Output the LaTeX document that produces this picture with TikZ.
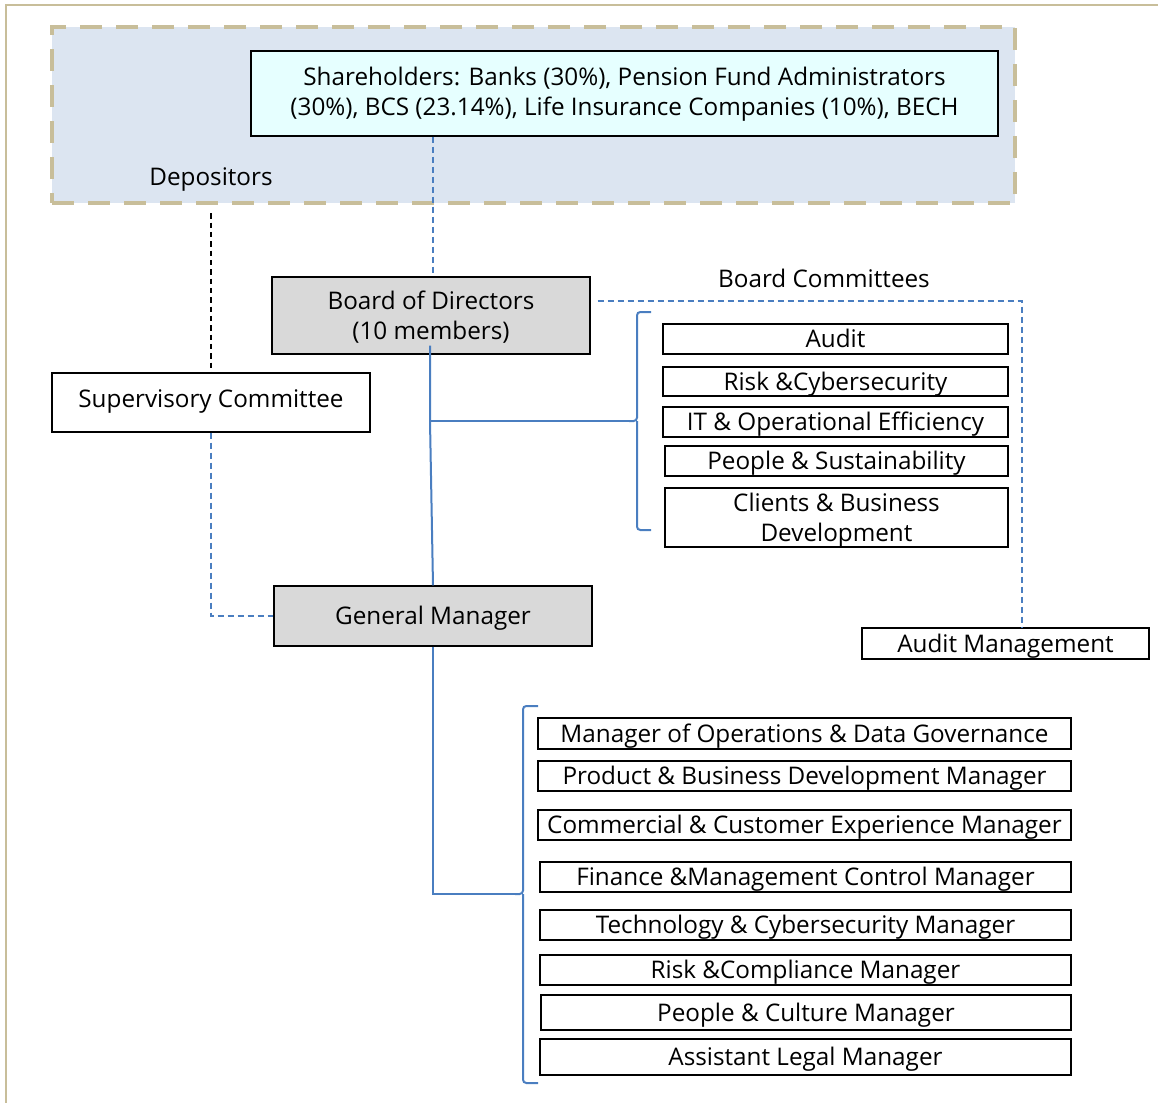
\documentclass[tikz,border=0pt]{standalone}
\usepackage{fontspec}
\setmainfont{Open Sans}
\usetikzlibrary{calc}
\definecolor{tanc}{HTML}{C8BE9A}
\definecolor{depfill}{HTML}{DCE5F1}
\definecolor{shfill}{HTML}{E6FFFF}
\definecolor{grayfill}{HTML}{D9D9D9}
\definecolor{bluel}{HTML}{4A7EC0}
\begin{document}
\begin{tikzpicture}[x=0.75pt,y=-0.75pt,
  every node/.style={font=\fontsize{18.2}{22.5}\selectfont, inner sep=0pt, text height=13pt, text depth=0pt},
  twolines/.style={text height=35.5pt, text depth=0pt},
  wh/.style 2 args={minimum width=#1*0.75pt, minimum height=#2*0.75pt},
  box/.style={draw=black, line width=0.9pt, align=center},
  graybox/.style={box, fill=grayfill},
  bluedash/.style={draw=bluel, line width=1.1pt, dash pattern=on 4.5pt off 3pt},
  blackdash/.style={draw=black, line width=1.1pt, dash pattern=on 4pt off 3pt},
  bluesolid/.style={draw=bluel, line width=1.5pt},
  brace/.style={draw=bluel, line width=1.5pt, rounded corners=2.5pt}
]
\useasboundingbox (0,0) rectangle (1158,1103);
% outer frame (top and left edges)
\draw[tanc, line width=1.6pt] (6,1103) -- (6,5) -- (1158,5);
% depositors area
\node[wh={963}{176}, fill=depfill, draw=tanc, line width=3.4pt, dash pattern=on 16.5pt off 10.5pt] (depbox) at (533.5,115) {};
\node[box, twolines, text height=32.5pt, fill=shfill, wh={747}{85}] (sh) at (624.5,93.5) {Shareholders: Banks (30\%), Pension Fund Administrators\\(30\%), BCS (23.14\%), Life Insurance Companies (10\%), BECH};
\node (deplabel) at (211,177) {Depositors};
% main boxes
\node[box, wh={318}{59}] (sup) at (211,402.5) {\raisebox{3pt}{Supervisory Committee}};
\node[graybox, twolines, wh={318}{77}] (board) at (431,315.5) {Board of Directors\\(10 members)};
\node[graybox, wh={318}{60}] (gm) at (433,616) {General Manager};
\node (bclabel) at (824,279) {Board Committees};
% committees
\node[box, wh={345}{30}] (c1) at (835.5,339) {Audit};
\node[box, wh={345}{29}] (c2) at (835.5,381.5) {Risk \&Cybersecurity};
\node[box, wh={345}{30}] (c3) at (835.5,422) {IT \& Operational Efficiency};
\node[box, wh={343}{30}] (c4) at (836.5,461) {People \& Sustainability};
\node[box, twolines, wh={343}{59}] (c5) at (836.5,517.5) {Clients \& Business\\Development};
\node[box, wh={287}{31}] (am) at (1005.5,643.5) {Audit Management};
% managers
\node[box, wh={533}{31}] (m1) at (804.5,733.5) {Manager of Operations \& Data Governance};
\node[box, wh={533}{30}] (m2) at (804.5,776) {Product \& Business Development Manager};
\node[box, wh={533}{30}] (m3) at (804.5,825) {Commercial \& Customer Experience Manager};
\node[box, wh={531}{30}] (m4) at (805.5,877) {Finance \&Management Control Manager};
\node[box, wh={531}{30}] (m5) at (805.5,925) {Technology \& Cybersecurity Manager};
\node[box, wh={531}{30}] (m6) at (805.5,970) {Risk \&Compliance Manager};
\node[box, wh={530}{35}] (m7) at (806,1012.5) {People \& Culture Manager};
\node[box, wh={531}{36}] (m8) at (805.5,1057) {Assistant Legal Manager};
% connectors
\coordinate (depfoot) at ($(deplabel.south |- depbox.south)+(0,8)$);
\draw[blackdash] (depfoot) -- (sup.north);
\draw[bluedash] ($(sh.south)+(-191.5,0)$) -- ($(board.north)+(2,0)$);
\draw[bluedash] (sup.south) |- (gm.west);
\coordinate (bcstart) at ($(board.east)+(7,-14.5)$);
\coordinate (bccorner) at (1022,301);
\draw[bluedash] (bcstart) -- (bccorner) -- (bccorner |- am.north);
% board to committees and GM
\coordinate (bj) at (430,421);
\coordinate (tip1) at (629,421);
\draw[bluesolid] ($(board.south)+(-1,-9)$) -- (bj) -- (gm.north);
\draw[bluesolid] (bj) -- (tip1);
\draw[brace] (651,312) -- (637,312) -- (637,421) -- (tip1);
\draw[brace] (651,530) -- (637,530) -- (637,421);
% GM to managers
\coordinate (gj) at (433,894);
\coordinate (tip2) at (515,894);
\draw[bluesolid] (gm.south) -- (gj) -- (tip2);
\draw[brace] (538,706) -- (523,706) -- (523,894) -- (tip2);
\draw[brace] (538,1083) -- (523,1083) -- (523,894);
\end{tikzpicture}
\end{document}
